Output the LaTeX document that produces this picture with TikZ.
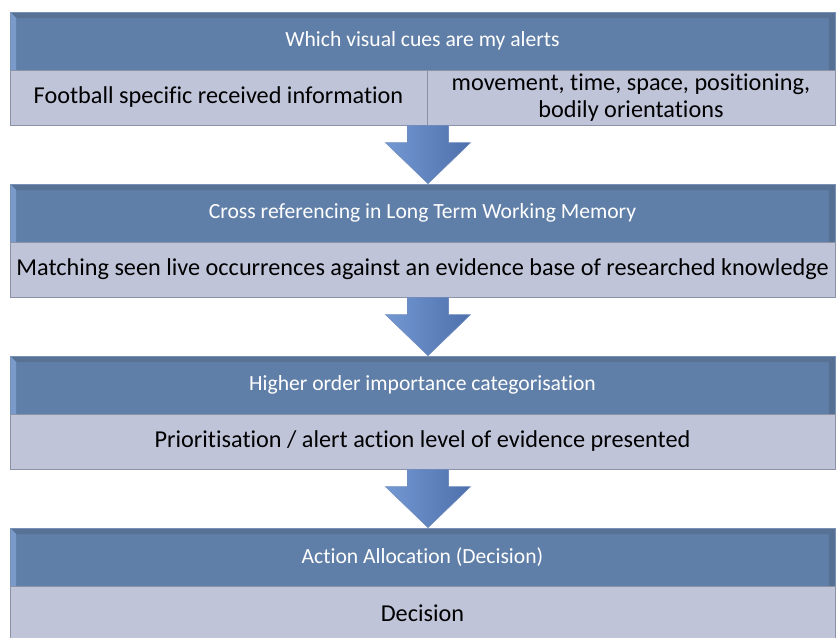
\documentclass[tikz,border=0pt]{standalone}
\usepackage{fontspec}
\setmainfont{Carlito}[Ligatures=NoCommon]
\usepackage{tikz}
\usetikzlibrary{calc}
\definecolor{headfill}{RGB}{96,127,168}
\definecolor{headline}{RGB}{120,145,180}
\definecolor{headlite}{RGB}{122,155,202}
\definecolor{headtop}{RGB}{88,114,150}
\definecolor{headright}{RGB}{86,112,148}
\definecolor{bodyfill}{RGB}{191,196,217}
\definecolor{bodyline}{RGB}{140,146,165}
\definecolor{arrowlite}{RGB}{115,152,210}
\definecolor{arrowdark}{RGB}{78,112,172}
\tikzstyle{head} = [draw=headline, fill=headfill, text=white, minimum width=16.5cm, minimum height=1.16cm, inner sep=0pt, font=\fontsize{12.3}{14}\selectfont,
  path picture={
    \fill[headtop] (path picture bounding box.north west) -- (path picture bounding box.north east) -- ($(path picture bounding box.north east)+(-0.12cm,-0.12cm)$) -- ($(path picture bounding box.north west)+(0.12cm,-0.12cm)$) -- cycle;
    \fill[headlite] (path picture bounding box.north west) -- ($(path picture bounding box.north west)+(0.12cm,-0.12cm)$) -- ($(path picture bounding box.south west)+(0.12cm,0)$) -- (path picture bounding box.south west) -- cycle;
    \fill[headright] (path picture bounding box.north east) -- ($(path picture bounding box.north east)+(-0.12cm,-0.12cm)$) -- ($(path picture bounding box.south east)+(-0.12cm,0)$) -- (path picture bounding box.south east) -- cycle;
  }]
\tikzstyle{body} = [draw=bodyline, fill=bodyfill, text=black, minimum height=1.1cm, inner sep=0pt, align=center, font=\fontsize{13.8}{15.5}\selectfont]
\tikzstyle{blockarrow} = [left color=arrowlite, right color=arrowdark, draw=arrowdark!80!white, line width=0.3pt]

\begin{document}
\begin{tikzpicture}[x=0.02cm, y=-0.02cm]
    \useasboundingbox (0,0) rectangle (838,637);
    % headers
    \draw (422.5,41) node[head] (h1) {Which visual cues are my alerts};
    \draw (422.5,213) node[head] (h2) {Cross referencing in Long Term Working Memory};
    \draw (422.5,385) node[head] (h3) {Higher order importance categorisation};
    \draw (422.5,557) node[head] (h4) {Action Allocation (Decision)};
    % bodies
    \draw (218.5,97.5) node[body, minimum width=8.34cm] (b1a) {Football specific received information};
    \draw (631,97.5) node[body, minimum width=8.16cm] (b1b) {movement, time, space, positioning,\\bodily orientations};
    \draw (422.5,269.5) node[body, minimum width=16.5cm] (b2) {Matching seen live occurrences against an evidence base of researched knowledge};
    \draw (422.5,441.5) node[body, minimum width=16.5cm] (b3) {Prioritisation / alert action level of evidence presented};
    \draw (422.5,613.5) node[body, minimum width=16.5cm] (b4) {Decision};
    % block arrows
    \coordinate (ax) at (428,0);
    \foreach \b/\h in {b1a/h2, b2/h3, b3/h4} {
        \shade[blockarrow] ($(\b.south -| ax)+(-20.5,0)$) -- ($(\h.north -| ax)+(-20.5,-41)$)
            -- ($(\h.north -| ax)+(-42.5,-41)$) -- (\h.north -| ax) -- ($(\h.north -| ax)+(42.5,-41)$)
            -- ($(\h.north -| ax)+(20.5,-41)$) -- ($(\b.south -| ax)+(20.5,0)$) -- cycle;
    }
\end{tikzpicture}
\end{document}
